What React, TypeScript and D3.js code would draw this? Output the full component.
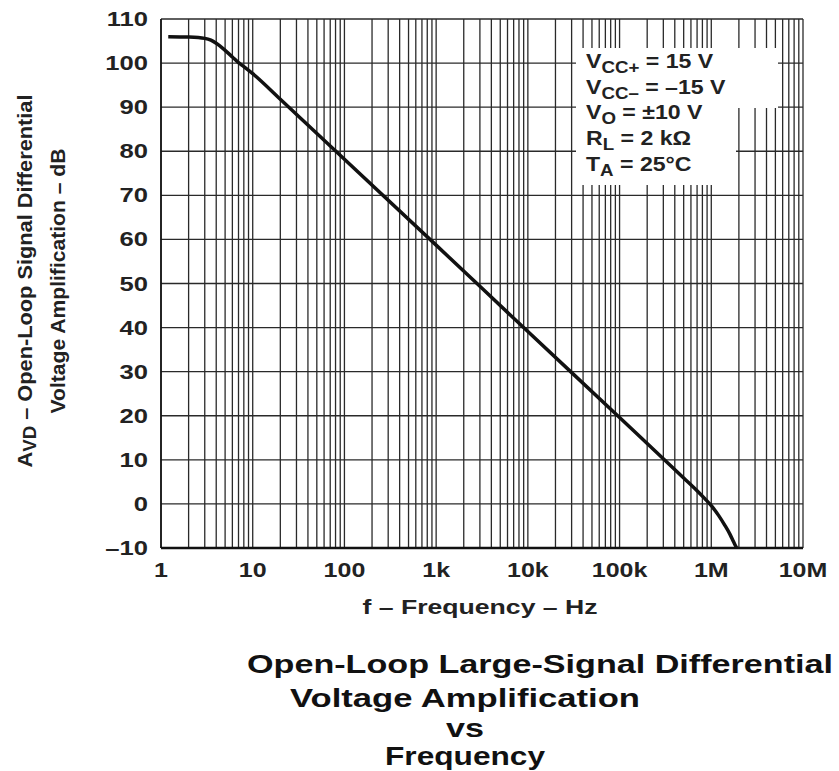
import React from 'react';
import * as d3 from 'd3';

// curve
const freqHz = [1.2, 2, 3, 3.5, 4, 5, 6, 7, 8, 10, 20, 100, 1e3, 1e4, 1e5, 5e5, 7e5, 8.5e5, 1e6, 1.2e6, 1.4e6, 1.6e6, 1.75e6, 1.85e6, 1.9e6];
const gainDb = [106, 105.9, 105.6, 105.2, 104.5, 102.9, 101.4, 100.1, 99.2, 97.6, 91.8, 78.2, 58.7, 39.1, 19.6, 5.9, 3.0, 1.2, -0.4, -2.6, -4.8, -6.9, -8.6, -9.6, -10];

const xTickValues = [1, 10, 100, 1e3, 1e4, 1e5, 1e6, 1e7];
const xTickLabels = ['1', '10', '100', '1k', '10k', '100k', '1M', '10M'];
const yTickValues = [-10, 0, 10, 20, 30, 40, 50, 60, 70, 80, 90, 100, 110];

const titleLines = ['Open-Loop Large-Signal Differential', 'Voltage Amplification', 'vs', 'Frequency'];

const W = 839;
const H = 771;
const left = 161, right = 803, top = 19, bottom = 548;
const font = 'Liberation Sans, Arial, sans-serif';
const gridColor = '#2a2a2a';

export default function App() {
  const x = d3.scaleLog().domain([1, 1e7]).range([left, right]);
  const y = d3.scaleLinear().domain([-10, 110]).range([bottom, top]);

  // minor grid at 1..9 of every decade
  const gridX: number[] = [];
  for (let d = 0; d < 7; d++) {
    for (let k = 1; k <= 9; k++) gridX.push(k * Math.pow(10, d));
  }
  gridX.push(1e7);

  const pts: [number, number][] = freqHz.map((f, i) => [x(f), y(gainDb[i])]);
  const path = d3.line().curve(d3.curveMonotoneX)(pts) || '';

  const tickStyle = { fontFamily: font, fontWeight: 700, fontSize: 20, fill: '#222' };
  const sub = { fontSize: 17 };

  return (
    <svg width={W} height={H} style={{ position: 'absolute', left: 0, top: 0, background: '#fff' }}>
      <rect x={0} y={0} width={W} height={H} fill="#fff" />
      {/* grid */}
      {gridX.map((v, i) => (
        <line key={'gx' + i} x1={x(v)} x2={x(v)} y1={top} y2={bottom} stroke={gridColor} strokeWidth={1.3} />
      ))}
      {yTickValues.map((v) => (
        <line key={'gy' + v} x1={left} x2={right} y1={y(v)} y2={y(v)} stroke={gridColor} strokeWidth={1.3} />
      ))}
      <line x1={left} x2={right} y1={bottom} y2={bottom} stroke="#111" strokeWidth={2.5} />
      <line x1={left} x2={left} y1={top} y2={bottom} stroke="#111" strokeWidth={1.6} />

      {/* conditions box */}
      <rect x={576} y={48} width={202} height={60} fill="#fff" />
      <rect x={576} y={107} width={160} height={78} fill="#fff" />
      <g transform="translate(586,0) scale(1.1,1)" style={{ fontFamily: font, fontWeight: 700, fontSize: 21, fill: '#222' }}>
        <text x={0} y={68}>V<tspan {...sub} dy={5}>CC+</tspan><tspan dy={-5}> = 15 V</tspan></text>
        <text x={0} y={94}>V<tspan {...sub} dy={5}>CC–</tspan><tspan dy={-5}> = –15 V</tspan></text>
        <text x={0} y={119}>V<tspan {...sub} dy={5}>O</tspan><tspan dy={-5}> = ±10 V</tspan></text>
        <text x={0} y={145}>R<tspan {...sub} dy={5}>L</tspan><tspan dy={-5}> = 2 kΩ</tspan></text>
        <text x={0} y={171}>T<tspan {...sub} dy={5}>A</tspan><tspan dy={-5}> = 25°C</tspan></text>
      </g>

      {/* curve */}
      <path d={path} fill="none" stroke="#111" strokeWidth={3.5} strokeLinejoin="round" />

      {/* y ticks */}
      {yTickValues.map((v) => (
        <text key={'ty' + v} transform={`translate(148,${y(v) + 7}) scale(1.28,1)`} textAnchor="end" style={tickStyle}>
          {v < 0 ? '–' + Math.abs(v) : String(v)}
        </text>
      ))}
      {/* x ticks */}
      {xTickValues.map((v, i) => (
        <text key={'tx' + v} transform={`translate(${x(v)},577) scale(1.25,1)`} textAnchor="middle" style={tickStyle}>
          {xTickLabels[i]}
        </text>
      ))}

      <text x={480} y={614} textAnchor="middle" textLength={235} lengthAdjust="spacingAndGlyphs"
        style={{ fontFamily: font, fontWeight: 700, fontSize: 20, fill: '#222' }}>
        f – Frequency – Hz
      </text>

      {/* y axis title */}
      <g style={{ fontFamily: font, fontWeight: 700, fontSize: 21, fill: '#222' }}>
        <text transform="translate(32,281) rotate(-90)" textAnchor="middle" textLength={373} lengthAdjust="spacingAndGlyphs">
          A<tspan fontSize={18} dy={4}>VD</tspan><tspan dy={-4}> – Open-Loop Signal Differential</tspan>
        </text>
        <text transform="translate(65,281) rotate(-90)" textAnchor="middle" textLength={265} lengthAdjust="spacingAndGlyphs">
          Voltage Amplification – dB
        </text>
      </g>

      {/* chart title */}
      <g style={{ fontFamily: font, fontWeight: 700, fontSize: 25, fill: '#111' }}>
        <text x={540} y={673} textAnchor="middle" textLength={586} lengthAdjust="spacingAndGlyphs">{titleLines[0]}</text>
        <text x={465} y={707} textAnchor="middle" textLength={350} lengthAdjust="spacingAndGlyphs">{titleLines[1]}</text>
        <text x={465} y={737} textAnchor="middle" textLength={38} lengthAdjust="spacingAndGlyphs">{titleLines[2]}</text>
        <text x={465} y={765} textAnchor="middle" textLength={160} lengthAdjust="spacingAndGlyphs">{titleLines[3]}</text>
      </g>
    </svg>
  );
}
